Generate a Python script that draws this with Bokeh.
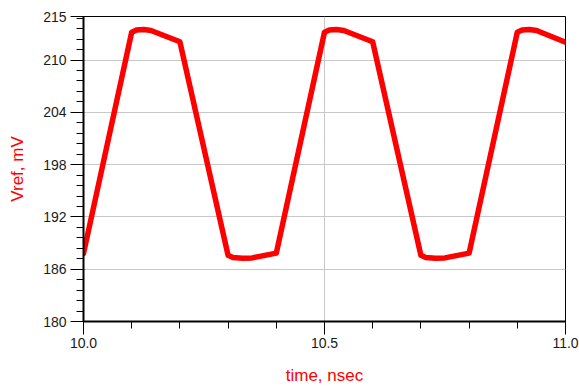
from bokeh.plotting import figure
from bokeh.models import FixedTicker, Range1d
from bokeh.embed import file_html
from bokeh.resources import INLINE
import numpy as np

# data
time_ns = [10.0, 10.1, 10.11, 10.125, 10.14, 10.2, 10.3, 10.31, 10.33, 10.35, 10.4,
           10.5, 10.51, 10.525, 10.54, 10.6, 10.7, 10.71, 10.73, 10.75, 10.8,
           10.9, 10.91, 10.925, 10.94, 11.0]
vref_mv = [187.8, 213.2, 213.45, 213.5, 213.4, 212.1, 187.6, 187.35, 187.25, 187.3, 187.85,
           213.2, 213.45, 213.5, 213.4, 212.1, 187.6, 187.35, 187.25, 187.3, 187.85,
           213.2, 213.45, 213.5, 213.4, 212.05]
y_ticks = [180, 186, 192, 198, 204, 210, 215]
x_ticks = [10.0, 10.5, 11.0]
x_tick_labels = {10.0: "10.0", 10.5: "10.5", 11.0: "11.0"}

FONT = "Liberation Sans"

p = figure(width=579, height=390, output_backend="svg", toolbar_location=None,
           x_range=Range1d(10.0, 11.0), y_range=Range1d(180, 215))
p.min_border_left = 83
p.min_border_right = 14
p.min_border_top = 16
p.min_border_bottom = 69
p.background_fill_color = "white"
p.border_fill_color = "white"
p.outline_line_color = "black"
p.outline_line_width = 1

p.line(time_ns, vref_mv, line_color="#ff0000", line_width=5.5, line_join="round", line_cap="round")

# axes
p.xaxis.ticker = FixedTicker(ticks=x_ticks, minor_ticks=list(np.round(np.arange(10.0, 11.001, 0.1), 3)))
p.xaxis.major_label_overrides = x_tick_labels
p.yaxis.ticker = FixedTicker(ticks=y_ticks, minor_ticks=list(np.round(np.arange(180, 215.0, 1.2), 3)))

for ax in (p.xaxis, p.yaxis):
    ax.axis_line_color = "black"
    ax.axis_line_width = 2
    ax.major_tick_line_color = "black"
    ax.minor_tick_line_color = "black"
    ax.major_tick_line_width = 1
    ax.minor_tick_line_width = 1
    ax.major_tick_in = 0
    ax.major_tick_out = 13
    ax.minor_tick_in = 0
    ax.minor_tick_out = 7
    ax.major_label_text_font = FONT
    ax.major_label_text_font_size = "14px"
    ax.major_label_text_color = "#1a1a1a"
    ax.axis_label_text_font = FONT
    ax.axis_label_text_font_size = "17px"
    ax.axis_label_text_font_style = "normal"
    ax.axis_label_text_color = "#ff0000"

p.xaxis.axis_label = "time, nsec"
p.yaxis.axis_label = "Vref, mV"
p.xaxis.major_label_standoff = 3
p.yaxis.major_label_standoff = 4
p.xaxis.axis_label_standoff = 15
p.yaxis.axis_label_standoff = 13

# grid
p.xgrid.ticker = FixedTicker(ticks=[10.5])
p.ygrid.ticker = FixedTicker(ticks=[186, 192, 198, 204, 210])
p.xgrid.grid_line_color = "#c8c8c8"
p.ygrid.grid_line_color = "#c8c8c8"
p.xgrid.grid_line_width = 1
p.ygrid.grid_line_width = 1

open("out.html", "w").write(file_html(p, INLINE))
